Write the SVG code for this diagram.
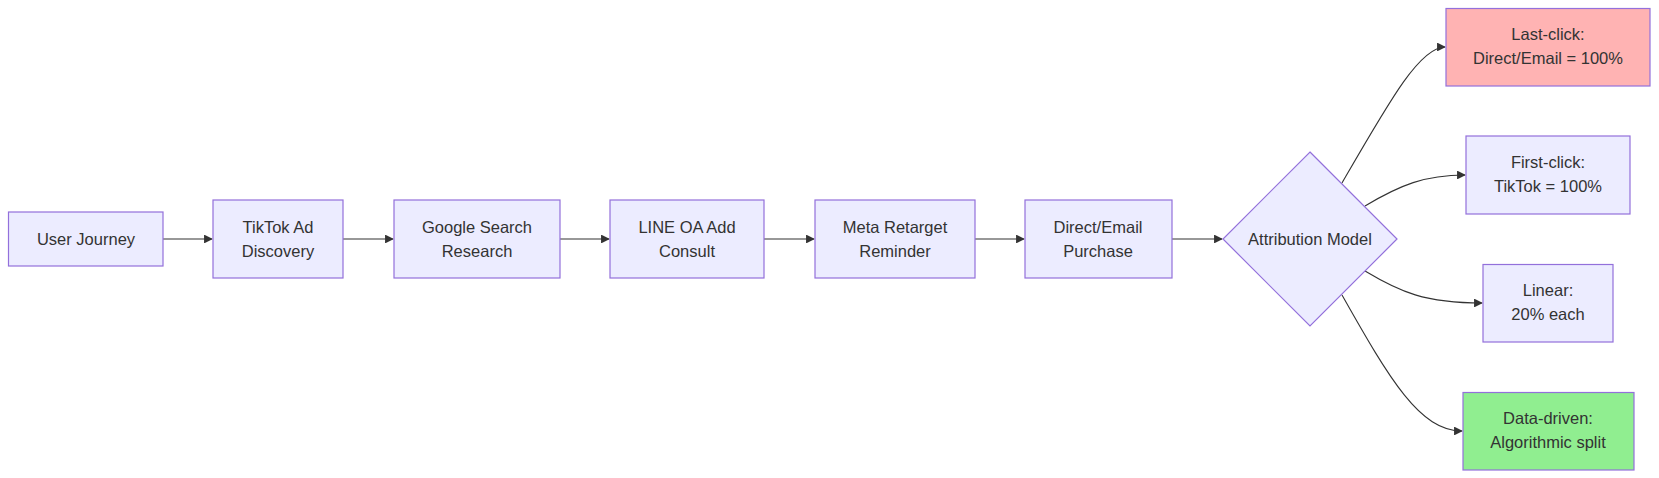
<svg xmlns="http://www.w3.org/2000/svg" width="1659" height="478" viewBox="0 0 1659 478">
<style>
.n{fill:#ECECFF;stroke:#9370DB;stroke-width:1.2}
text{font-family:"Liberation Sans",Arial,sans-serif;font-size:16.5px;fill:#333;text-anchor:middle}
.e{fill:none;stroke:#333;stroke-width:1.1;marker-end:url(#a)}
</style>
<defs><marker id="a" viewBox="0 0 10 10" refX="9" refY="5" markerWidth="8" markerHeight="8" orient="auto"><path d="M0,0L10,5L0,10z" fill="#333"/></marker></defs>
<rect width="1659" height="478" fill="#fff"/>
<g id="edges">
<path class="e" d="M163,239H212"/>
<path class="e" d="M343,239H393"/>
<path class="e" d="M560,239H609"/>
<path class="e" d="M764,239H814"/>
<path class="e" d="M975,239H1024"/>
<path class="e" d="M1172,239H1222"/>
<path class="e" d="M1342,183C1390,100 1420,47 1445,47"/>
<path class="e" d="M1365,206C1400,185 1425,175 1465,175"/>
<path class="e" d="M1365,271C1400,292 1425,303 1482,303"/>
<path class="e" d="M1342,295C1390,380 1420,431 1462,431"/>
</g>
<g id="n1"><rect class="n" x="8.5" y="212" width="154.5" height="54"/><text x="86" y="245">User Journey</text></g>
<g id="n2"><rect class="n" x="213" y="200" width="130" height="78"/><text x="278" y="233">TikTok Ad</text><text x="278" y="257">Discovery</text></g>
<g id="n3"><rect class="n" x="394" y="200" width="166" height="78"/><text x="477" y="233">Google Search</text><text x="477" y="257">Research</text></g>
<g id="n4"><rect class="n" x="610" y="200" width="154" height="78"/><text x="687" y="233">LINE OA Add</text><text x="687" y="257">Consult</text></g>
<g id="n5"><rect class="n" x="815" y="200" width="160" height="78"/><text x="895" y="233">Meta Retarget</text><text x="895" y="257">Reminder</text></g>
<g id="n6"><rect class="n" x="1025" y="200" width="147" height="78"/><text x="1098" y="233">Direct/Email</text><text x="1098" y="257">Purchase</text></g>
<g id="d"><path class="n" d="M1310,152L1397,239L1310,326L1223,239Z"/><text x="1310" y="245">Attribution Model</text></g>
<g id="l1"><rect x="1446" y="8.5" width="204" height="77.5" fill="#FFB3B3" stroke="#9370DB" stroke-width="1.2"/><text x="1548" y="40">Last-click:</text><text x="1548" y="64">Direct/Email = 100%</text></g>
<g id="l2"><rect class="n" x="1466" y="136" width="164" height="78"/><text x="1548" y="168">First-click:</text><text x="1548" y="192">TikTok = 100%</text></g>
<g id="l3"><rect class="n" x="1483" y="264.5" width="130" height="77.5"/><text x="1548" y="296">Linear:</text><text x="1548" y="320">20% each</text></g>
<g id="l4"><rect x="1463" y="392.5" width="171" height="77.5" fill="#90EE90" stroke="#9370DB" stroke-width="1.2"/><text x="1548" y="424">Data-driven:</text><text x="1548" y="448">Algorithmic split</text></g>
</svg>
